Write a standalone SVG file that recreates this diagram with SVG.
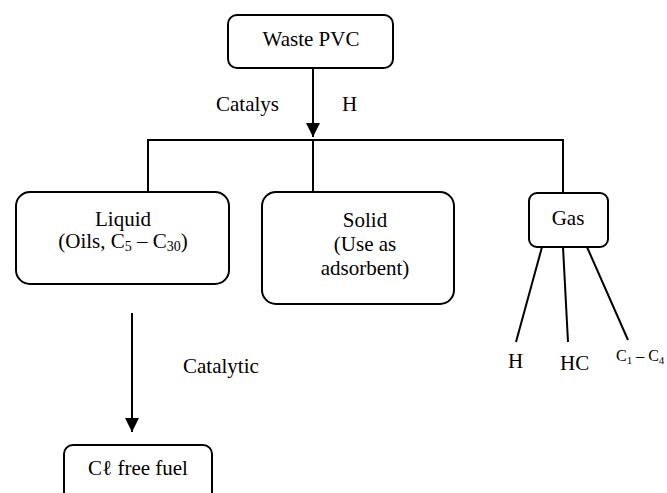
<svg xmlns="http://www.w3.org/2000/svg" width="667" height="493" viewBox="0 0 667 493" font-family="'Liberation Serif', 'Times New Roman', serif">
<style>
.box{fill:#fff;stroke:#000;stroke-width:2}
.ln{fill:none;stroke:#000;stroke-width:2}
.t{font-family:'Liberation Serif','Times New Roman',serif;font-size:21px;fill:#000}
.c{text-anchor:middle}
.sm{font-size:16px}
.sub{font-size:14px}
</style>
<defs>
<marker id="ah" markerWidth="16" markerHeight="16" refX="14" refY="7" orient="auto" markerUnits="userSpaceOnUse">
<path d="M0,0 L14,7 L0,14 z" fill="#000"/>
</marker>
</defs>
<g id="connectors">
<line class="ln" x1="313" y1="68" x2="313" y2="137" marker-end="url(#ah)"/>
<polyline class="ln" points="148,192 148,140 563,140 563,193"/>
<line class="ln" x1="313" y1="140" x2="313" y2="192"/>
<line class="ln" x1="542" y1="247" x2="516" y2="342"/>
<line class="ln" x1="563" y1="247" x2="568" y2="342"/>
<line class="ln" x1="587" y1="247" x2="628" y2="340"/>
<line class="ln" x1="132" y1="313" x2="132" y2="432" marker-end="url(#ah)"/>
<text class="t" x="216" y="111">Catalys</text>
<text class="t" x="342" y="111">H</text>
<text class="t" x="183" y="373">Catalytic</text>
</g>
<g id="waste-pvc">
<rect class="box" x="228" y="15" width="165" height="53" rx="9"/>
<text class="t c" x="311" y="46">Waste PVC</text>
</g>
<g id="liquid">
<rect class="box" x="16" y="192" width="213" height="92" rx="14"/>
<text class="t c" x="123" y="226">Liquid</text>
<text class="t c" x="123" y="248">(Oils, C<tspan class="sub" dy="3">5</tspan><tspan dy="-3"> – C</tspan><tspan class="sub" dy="3">30</tspan><tspan dy="-3">)</tspan></text>
</g>
<g id="solid">
<rect class="box" x="262" y="192" width="192" height="112" rx="14"/>
<text class="t c" x="365" y="227">Solid</text>
<text class="t c" x="365" y="251">(Use as</text>
<text class="t c" x="365" y="275">adsorbent)</text>
</g>
<g id="gas">
<rect class="box" x="529" y="193" width="79" height="54" rx="8"/>
<text class="t c" x="568" y="225">Gas</text>
</g>
<g id="gas-products">
<text class="t" x="508" y="368">H</text>
<text class="t" x="560" y="370">HC</text>
<text class="t sm" x="616" y="361">C<tspan dy="3" style="font-size:11px">1</tspan><tspan dy="-3"> – C</tspan><tspan dy="3" style="font-size:11px">4</tspan></text>
</g>
<g id="cl-free-fuel">
<rect class="box" x="64" y="445" width="148" height="60" rx="9"/>
<text class="t c" x="138" y="475">Cℓ free fuel</text>
</g>
</svg>
